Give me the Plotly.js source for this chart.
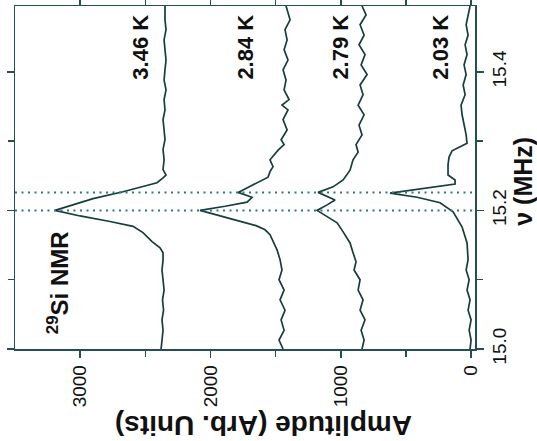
<!DOCTYPE html>
<html>
<head>
<meta charset="utf-8">
<script src="https://cdn.plot.ly/plotly-3.0.1.min.js"></script>
<style>
  html, body { margin: 0; padding: 0; background: #ffffff; }
  #chart { width: 537px; height: 441px; }
</style>
</head>
<body>
<div id="chart"></div>
<script>
// ---- data (frequency in MHz, amplitude in arb. units) ----
const nu_346 = [15.000,15.013,15.027,15.042,15.056,15.071,15.085,15.100,15.114,15.128,15.139,15.146,15.155,15.168,15.177,15.184,15.192,15.200,15.208,15.217,15.227,15.233,15.240,15.247,15.251,15.259,15.273,15.288,15.302,15.316,15.331,15.345,15.360,15.374,15.388,15.403,15.417,15.432,15.446,15.461,15.475,15.495];
const amp_346 = [2379,2372,2364,2372,2360,2368,2356,2364,2372,2364,2364,2387,2448,2518,2594,2771,3001,3193,3055,2901,2671,2540,2410,2364,2341,2364,2356,2364,2349,2356,2364,2349,2356,2341,2356,2349,2341,2349,2356,2341,2349,2349];

const nu_284 = [15.000,15.013,15.027,15.042,15.056,15.071,15.085,15.100,15.114,15.129,15.143,15.157,15.165,15.172,15.178,15.183,15.191,15.195,15.200,15.206,15.212,15.219,15.226,15.231,15.237,15.243,15.248,15.256,15.263,15.273,15.280,15.287,15.295,15.302,15.316,15.331,15.345,15.352,15.360,15.374,15.388,15.403,15.417,15.432,15.446,15.461,15.475,15.490,15.495];
const amp_284 = [1443,1474,1435,1458,1428,1466,1435,1474,1451,1466,1489,1520,1543,1581,1650,1750,1903,1988,2080,1888,1719,1681,1788,1735,1673,1604,1558,1543,1520,1543,1512,1481,1435,1458,1412,1443,1405,1451,1397,1435,1420,1443,1405,1435,1412,1428,1389,1412,1420];

const nu_279 = [15.000,15.013,15.027,15.042,15.056,15.071,15.085,15.100,15.114,15.126,15.139,15.153,15.169,15.182,15.191,15.200,15.208,15.215,15.226,15.234,15.244,15.258,15.273,15.284,15.295,15.309,15.323,15.338,15.352,15.367,15.381,15.396,15.410,15.425,15.439,15.453,15.468,15.482,15.495];
const amp_279 = [837,821,844,814,852,829,867,852,898,883,906,929,982,1028,1105,1182,1105,1044,1174,1059,982,929,906,867,883,837,860,821,867,829,852,798,844,814,860,821,852,806,837];

const nu_203 = [15.000,15.013,15.027,15.042,15.056,15.071,15.085,15.100,15.114,15.129,15.153,15.176,15.198,15.211,15.219,15.225,15.238,15.244,15.251,15.266,15.277,15.286,15.292,15.297,15.309,15.323,15.338,15.352,15.367,15.381,15.396,15.410,15.425,15.439,15.453,15.468,15.482,15.495];
const amp_203 = [8,0,15,0,23,8,31,15,38,23,31,69,138,238,414,622,123,123,177,177,169,146,84,31,38,54,69,77,46,61,38,54,31,46,23,38,23,8];

const markerNu = [15.2, 15.226];

const tempLabels = ['3.46 K', '2.84 K', '2.79 K', '2.03 K'];
const tempLabelAmp = [2540, 1727, 998, 238];
const tempLabelNu = 15.435;

const ampTicks = [0, 1000, 2000, 3000];
const ampMinor = [500, 1500, 2500];
const nuTicks = [15.0, 15.2, 15.4];
const nuTickText = ['15.0', '15.2', '15.4'];
const nuMinor = [15.1, 15.3];

// ---- styling ----
const FONT = 'Liberation Sans, Arial, Helvetica, sans-serif';
const lineCol = '#173d3d';
const axisCol = '#24504f';
const dotCol = '#2d7878';

const series = [[nu_346, amp_346], [nu_284, amp_284], [nu_279, amp_279], [nu_203, amp_203]];
const traces = series.map((s, i) => ({
  type: 'scatter', mode: 'lines',
  x: s[1], y: s[0],
  name: tempLabels[i],
  line: { color: lineCol, width: 1.7 },
  hoverinfo: 'skip'
}));

const shapes = markerNu.map(v => ({
  type: 'line', xref: 'paper', x0: 0, x1: 1, yref: 'y', y0: v, y1: v,
  line: { color: dotCol, width: 2, dash: '2px,4.5px' }
}));

const annotations = tempLabels.map((t, i) => ({
  text: '<b>' + t + '</b>', x: tempLabelAmp[i], y: tempLabelNu, xref: 'x', yref: 'y',
  textangle: -90, showarrow: false, xanchor: 'center', yanchor: 'middle',
  font: { family: FONT, size: 22, color: '#111' }
}));
annotations.push({
  text: '<b><sup>29</sup>Si NMR</b>', x: 3165, y: 15.096, xref: 'x', yref: 'y',
  textangle: -90, showarrow: false, xanchor: 'center', yanchor: 'middle',
  font: { family: FONT, size: 24, color: '#111' }
});
annotations.push({
  text: '<b>Amplitude (Arb. Units)</b>', x: 1589, y: -0.225, xref: 'x', yref: 'paper',
  textangle: 180, showarrow: false, xanchor: 'center', yanchor: 'middle',
  font: { family: FONT, size: 28, color: '#111' }
});
annotations.push({
  text: '<b>ν (MHz)</b>', x: 1.104, y: 0.49, xref: 'paper', yref: 'paper',
  textangle: -90, showarrow: false, xanchor: 'center', yanchor: 'middle',
  font: { family: FONT, size: 25, color: '#111' }
});

const layout = {
  width: 537, height: 441,
  margin: { l: 15, r: 62, t: 6, b: 92 },
  paper_bgcolor: '#ffffff', plot_bgcolor: '#ffffff',
  showlegend: false,
  xaxis: {
    range: [3500, -30], tickmode: 'array', tickvals: ampTicks, ticktext: ampTicks.map(String),
    ticks: 'outside', ticklen: 7, tickwidth: 1.5, tickcolor: axisCol,
    minor: { tickmode: 'array', tickvals: ampMinor, ticks: 'outside', ticklen: 6, tickwidth: 1.5, tickcolor: axisCol },
    showline: true, linecolor: axisCol, linewidth: 1.5, mirror: 'ticks',
    tickangle: -90, tickfont: { family: FONT, size: 19, color: '#111' },
    showgrid: false, zeroline: false
  },
  yaxis: {
    side: 'right', range: [15.0, 15.495], tickmode: 'array', tickvals: nuTicks, ticktext: nuTickText,
    ticks: 'outside', ticklen: 7, tickwidth: 1.5, tickcolor: axisCol,
    minor: { tickmode: 'array', tickvals: nuMinor, ticks: 'outside', ticklen: 6, tickwidth: 1.5, tickcolor: axisCol },
    showline: true, linecolor: axisCol, linewidth: 1.5, mirror: 'ticks',
    tickangle: -90, tickfont: { family: FONT, size: 19, color: '#111' },
    showgrid: false, zeroline: false
  },
  shapes: shapes,
  annotations: annotations
};

Plotly.newPlot('chart', traces, layout, { staticPlot: true, displayModeBar: false });
</script>
</body>
</html>
